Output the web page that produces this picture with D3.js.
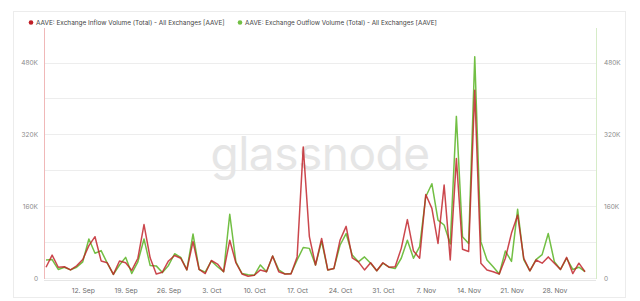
<!DOCTYPE html>
<html><head><meta charset="utf-8">
<script src="https://cdn.jsdelivr.net/npm/d3@7"></script>
<style>
html,body{margin:0;padding:0;background:#fff;}
svg{display:block;font-family:Inter,"Noto Sans",sans-serif;}
</style></head>
<body><svg id="c" width="640" height="301"></svg>
<script>
const startDate = "2021-09-06";
const inflow = [24,51,24,25,18,27,41,72,92,38,34,8,38,34,17,44,119,45,9,13,38,50,44,18,81,19,10,39,31,14,84,34,9,4,6,18,14,49,14,9,9,47,292,92,29,88,18,21,84,115,45,36,18,34,16,34,24,25,66,130,60,44,186,155,77,207,40,266,64,59,418,33,18,14,9,44,100,140,44,16,40,33,47,33,19,46,10,33,14].map(v=>v*1000);
const outflow = [40,41,19,24,18,24,36,87,55,61,33,8,29,46,10,36,87,28,27,12,28,54,46,18,98,19,13,38,25,14,142,36,10,7,6,29,14,49,18,9,10,40,68,66,29,82,18,21,73,99,51,36,47,33,16,33,24,21,44,84,44,70,181,210,129,118,76,360,92,77,493,81,40,25,9,60,37,153,41,16,41,52,99,36,19,44,19,24,14].map(v=>v*1000);
const yTicks = [0,160000,320000,480000];
const yGrid = [0,80000,160000,240000,320000,400000,480000];
const legendLabels = ["AAVE: Exchange Inflow Volume (Total) - All Exchanges [AAVE]","AAVE: Exchange Outflow Volume (Total) - All Exchanges [AAVE]"];
const colors = ["#c01e26","#72bf44"];

const parse = d3.timeParse("%Y-%m-%d");
const d0 = parse(startDate);
const dates = inflow.map((_,i)=>d3.timeDay.offset(d0,i));

const svg = d3.select("#c");
const L=44, R=596, T=28, B=279;
const x = d3.scaleTime().domain([dates[0],dates[dates.length-1]]).range([46,585]);
const y = d3.scaleLinear().domain([0,480000]).range([278,62.5]);

// outer frame
svg.append("rect").attr("x",13.5).attr("y",11.5).attr("width",612).attr("height",286).attr("fill","none").attr("stroke","#ececec");

// gridlines
svg.append("g").selectAll("line").data(yGrid).join("line")
  .attr("x1",L).attr("x2",R).attr("y1",d=>Math.round(y(d))+0.5).attr("y2",d=>Math.round(y(d))+0.5)
  .attr("stroke","#ededed");

// watermark
svg.append("text").attr("x",320).attr("y",170).attr("text-anchor","middle")
  .attr("font-size",46).attr("font-family","Inter,Lato,sans-serif").attr("font-weight",400)
  .attr("fill","#e6e6e6").attr("letter-spacing",-0.5).text("glassnode");

// axis lines
svg.append("line").attr("x1",L+0.5).attr("x2",L+0.5).attr("y1",T).attr("y2",B).attr("stroke","#f0b8b8");
svg.append("line").attr("x1",R+0.5).attr("x2",R+0.5).attr("y1",T).attr("y2",B).attr("stroke","#d6ecc8");
svg.append("line").attr("x1",L).attr("x2",R).attr("y1",B+1.5).attr("y2",B+1.5).attr("stroke","#e6e6e6");

// y axes
const fmt = d=>d===0?"0":d3.format("~s")(d).replace("k","K");
const gl = svg.append("g").attr("transform","translate(38,0)").call(d3.axisLeft(y).tickValues(yTicks).tickSize(0).tickPadding(0).tickFormat(fmt));
const gr = svg.append("g").attr("transform","translate(604,0)").call(d3.axisRight(y).tickValues(yTicks).tickSize(0).tickPadding(0).tickFormat(fmt));
[gl,gr].forEach(g=>{g.select(".domain").remove();g.selectAll("text").attr("fill","#8a8a8a").attr("font-size",6.5).attr("font-family","Inter,sans-serif");});

// x axis
const xa = d3.axisBottom(x).ticks(d3.timeSunday.every(1)).tickSize(0).tickPadding(0).tickFormat(d3.timeFormat("%-d. %b"));
const gx = svg.append("g").attr("transform","translate(0,288)").call(xa);
gx.select(".domain").remove();
gx.selectAll("text").attr("fill","#6e6e6e").attr("font-size",6.8).attr("font-family","Inter,sans-serif");

// lines
const line = d3.line().x((d,i)=>x(dates[i])).y(d=>y(d));
svg.append("clipPath").attr("id","pc").append("rect").attr("x",L+1).attr("y",T).attr("width",R-L-1).attr("height",B-T);
svg.append("path").datum(outflow).attr("d",line).attr("fill","none").attr("stroke",colors[1]).attr("stroke-width",1.5).attr("stroke-linejoin","round").attr("clip-path","url(#pc)");
svg.append("path").datum(inflow).attr("d",line).attr("fill","none").attr("stroke",colors[0]).attr("stroke-width",1.5).attr("stroke-opacity",0.82).attr("stroke-linejoin","round").attr("clip-path","url(#pc)");

// legend
const lg = svg.append("g");
const lx = [31,240], targetW=[189,192];
legendLabels.forEach((t,i)=>{
  lg.append("circle").attr("cx",lx[i]).attr("cy",22.5).attr("r",2.3).attr("fill",colors[i]);
  const tx = lg.append("text").attr("x",lx[i]+5).attr("y",25).attr("font-size",7).attr("fill","#444").attr("font-family","Inter,sans-serif").text(t);
  const w = tx.node().getComputedTextLength();
  tx.attr("font-size",7*targetW[i]/w);
});
</script></body></html>
